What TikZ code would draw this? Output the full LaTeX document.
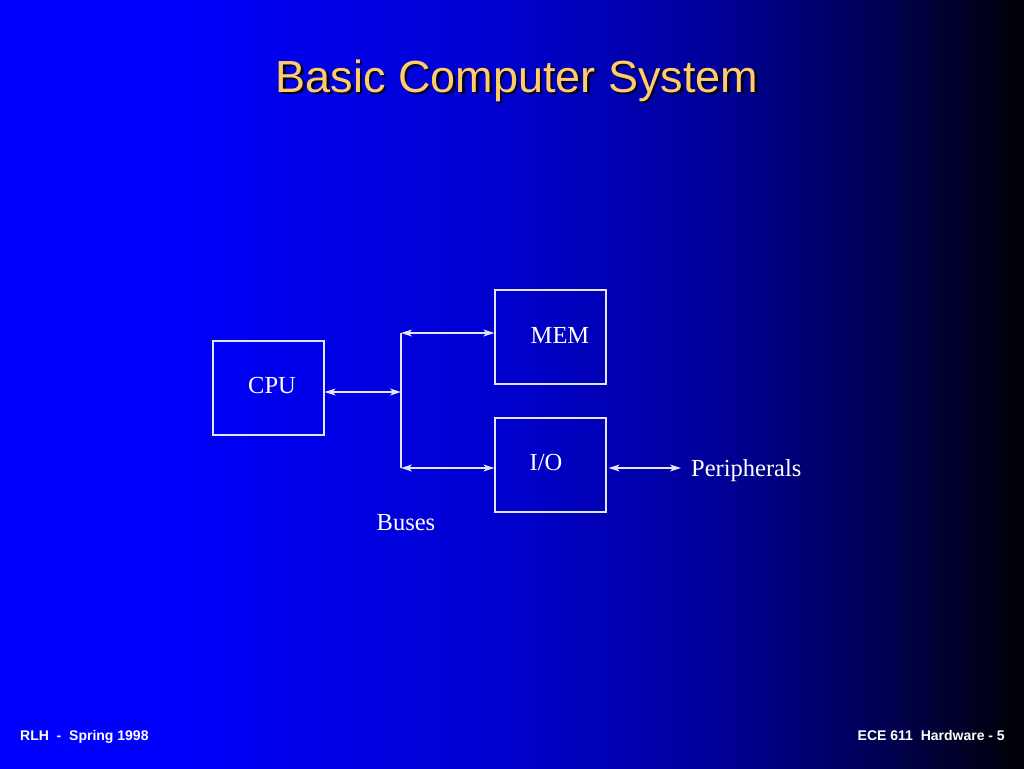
\documentclass[tikz,border=0pt]{standalone}
\usepackage{fontspec}
\setmainfont{Liberation Serif}
\setsansfont{Liberation Sans}
\usetikzlibrary{arrows.meta}
\definecolor{boxline}{RGB}{228,228,250}
\definecolor{titlecol}{RGB}{255,204,102}
\definecolor{shadowcol}{RGB}{0,0,40}
\definecolor{bgA}{RGB}{0,0,255}
\definecolor{bgB}{RGB}{0,0,205}
\definecolor{bgC}{RGB}{0,0,150}
\definecolor{bgD}{RGB}{0,0,80}
\definecolor{bgE}{RGB}{0,0,0}
\begin{document}
\begin{tikzpicture}[x=1pt,y=-1pt,
  box/.style={draw=boxline, line width=1.2pt, minimum width=111pt, minimum height=94pt, inner sep=0pt},
  lbl/.style={text=white, inner sep=0pt, font=\fontsize{24.5}{28}\selectfont},
  bus/.style={draw=boxline, line width=1.2pt},
  bi/.style={bus, {Stealth[length=11pt,width=7pt,inset=3pt]}-{Stealth[length=11pt,width=7pt,inset=3pt]}},
  foot/.style={text=white, inner sep=0pt, font=\sffamily\bfseries\fontsize{14}{16}\selectfont},
  ttl/.style={inner sep=0pt, font=\sffamily\fontsize{45}{50}\selectfont}]
\useasboundingbox (0,0) rectangle (1024,768);
% background
\fill[bgA] (-5,-5) rectangle (151,773);
\shade[left color=bgA, right color=bgB] (150,-5) rectangle (513,773);
\shade[left color=bgB, right color=bgC] (512,-5) rectangle (723,773);
\shade[left color=bgC, right color=bgD] (722,-5) rectangle (887,773);
\shade[left color=bgD, right color=bgE] (886,-5) rectangle (1029,773);
% title
\node[ttl, text=shadowcol, anchor=base] (tshadow) at (519.5,94.5) {Basic Computer System};
\node[ttl, text=titlecol, anchor=base] (title) at (517,92) {Basic Computer System};
% boxes
\node[box] (cpu) at (268.5,388) {};
\node[box] (mem) at (550.5,337) {};
\node[box] (io) at (550.5,465) {};
\node[lbl] (cpul) at (272,386) {CPU};
\node[lbl] (meml) at (560,335) {MEM};
\node[lbl] (iol) at (546,463) {I/O};
\node[lbl, anchor=west] (per) at (691,471) {Peripherals};
\node[lbl] (buses) at (406,523) {Buses};
% bus
\coordinate (bt) at (401,333);
\coordinate (bm) at (401,392);
\coordinate (bb) at (401,468);
\coordinate (pe) at (681,468);
\draw[bus] (bt) -- (bb);
\draw[bi] (cpu.east |- bm) -- (bm);
\draw[bi] (bt) -- (mem.west |- bt);
\draw[bi] (bb) -- (io.west |- bb);
\draw[bi] ([xshift=2pt]io.east |- bb) -- (pe);
% footer
\node[foot, anchor=base west] (fl) at (20,740) {RLH\ \ -\ \ Spring 1998};
\node[foot, anchor=base east] (fr) at (1005,740) {ECE 611\ \ Hardware - 5};
\end{tikzpicture}
\end{document}
